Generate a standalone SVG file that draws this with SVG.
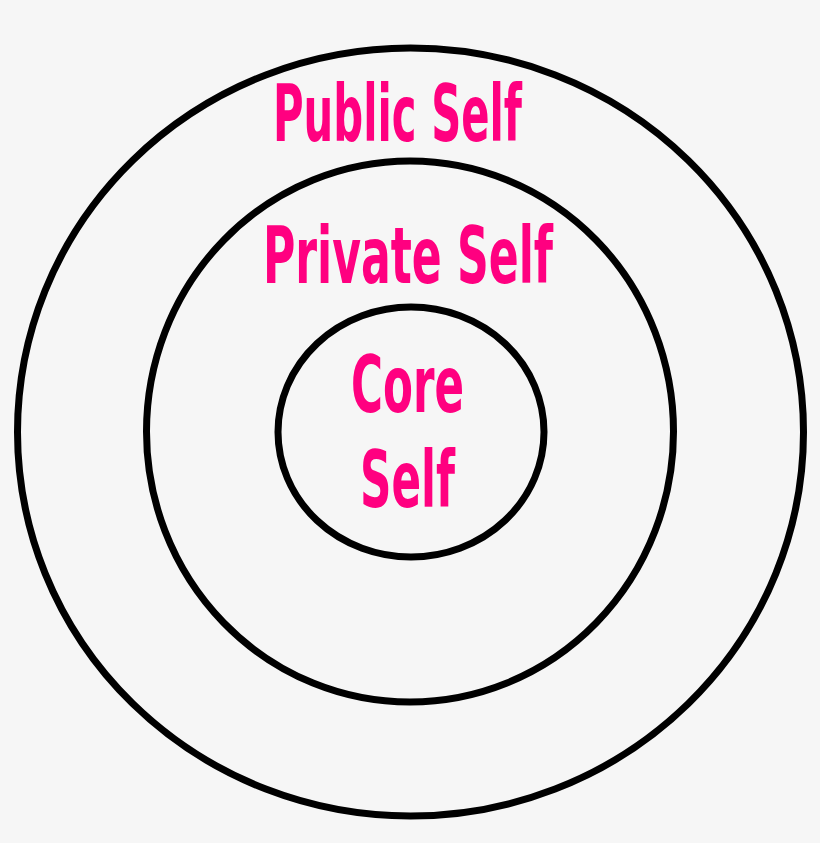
<svg xmlns="http://www.w3.org/2000/svg" width="820" height="843" viewBox="0 0 820 843">
<style>
.ring{fill:none;stroke:#000;stroke-width:7}
.lbl{fill:#ff0080;font-family:"Liberation Sans Narrow","DejaVu Sans Condensed","Liberation Sans",sans-serif;font-weight:bold;font-size:78px}
</style>
<rect width="820" height="843" fill="#f6f6f6"/>
<g id="public-self">
<ellipse class="ring" cx="410.5" cy="432" rx="393" ry="384"/>
<text class="lbl" x="273" y="141" textLength="249" lengthAdjust="spacingAndGlyphs">Public Self</text>
</g>
<g id="private-self">
<ellipse class="ring" cx="410" cy="431.5" rx="263.5" ry="270.5"/>
<text class="lbl" x="263" y="283" textLength="290" lengthAdjust="spacingAndGlyphs">Private Self</text>
</g>
<g id="core-self">
<ellipse class="ring" cx="411" cy="432" rx="133" ry="125"/>
<text class="lbl" x="351" y="412" textLength="113" lengthAdjust="spacingAndGlyphs">Core</text>
<text class="lbl" x="360" y="507" textLength="95" lengthAdjust="spacingAndGlyphs">Self</text>
</g>
<g id="connectors"/>
</svg>
